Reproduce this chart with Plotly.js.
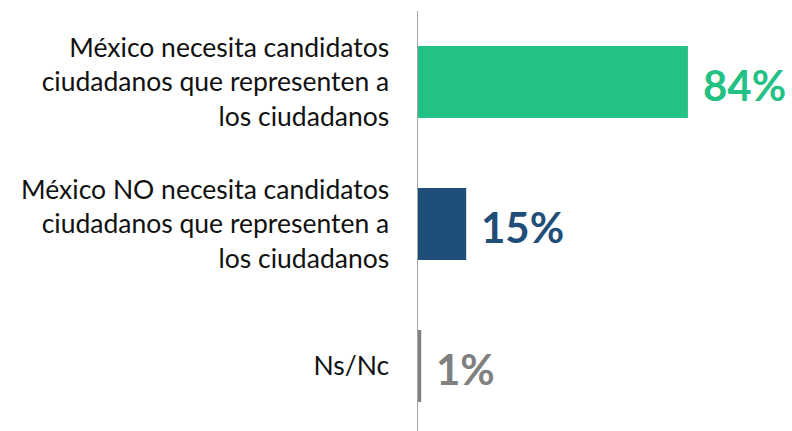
<!DOCTYPE html>
<html>
<head>
<meta charset="utf-8">
<script src="https://cdn.plot.ly/plotly-3.0.1.min.js"></script>
<style>html,body{margin:0;padding:0;background:#fff;}#chart{width:792px;height:431px;}</style>
</head>
<body>
<div id="chart"></div>
<script>
const categories = [
  "México necesita candidatos<br>ciudadanos que representen a<br>los ciudadanos",
  "México NO necesita candidatos<br>ciudadanos que representen a<br>los ciudadanos",
  "Ns/Nc"
];
const values = [84, 15, 1];
const valueLabels = ["84%", "15%", "1%"];
const colors = ["#23C184", "#1F4E78", "#808080"];

const trace = {
  type: "bar",
  orientation: "h",
  y: categories,
  x: values,
  marker: {color: colors},
  width: 0.507,
  hoverinfo: "none"
};

const annotations = values.map((v, i) => ({
  x: v, y: categories[i], xref: "x", yref: "y",
  text: "<b>" + valueLabels[i] + "</b>",
  showarrow: false, xanchor: "left", yanchor: "middle",
  xshift: 13, yshift: -3,
  font: {family: "Lato, sans-serif", size: 42, color: colors[i]}
}));

const layout = {
  width: 792, height: 431,
  margin: {l: 418, r: 0, t: 11, b: 0, pad: 0},
  paper_bgcolor: "#fff", plot_bgcolor: "#fff",
  showlegend: false,
  xaxis: {range: [0, 116.4], visible: false, fixedrange: true},
  yaxis: {
    type: "category",
    range: [2.458, -0.5],
    showline: true, linecolor: "#A6A6A6", linewidth: 1.5,
    ticks: "", showgrid: false, zeroline: false,
    ticklabelstandoff: 22,
    tickfont: {family: "Lato, sans-serif", size: 26.5, color: "#111111"}
  },
  annotations: annotations
};

Plotly.newPlot("chart", [trace], layout, {staticPlot: true, displayModeBar: false});
</script>
</body>
</html>
